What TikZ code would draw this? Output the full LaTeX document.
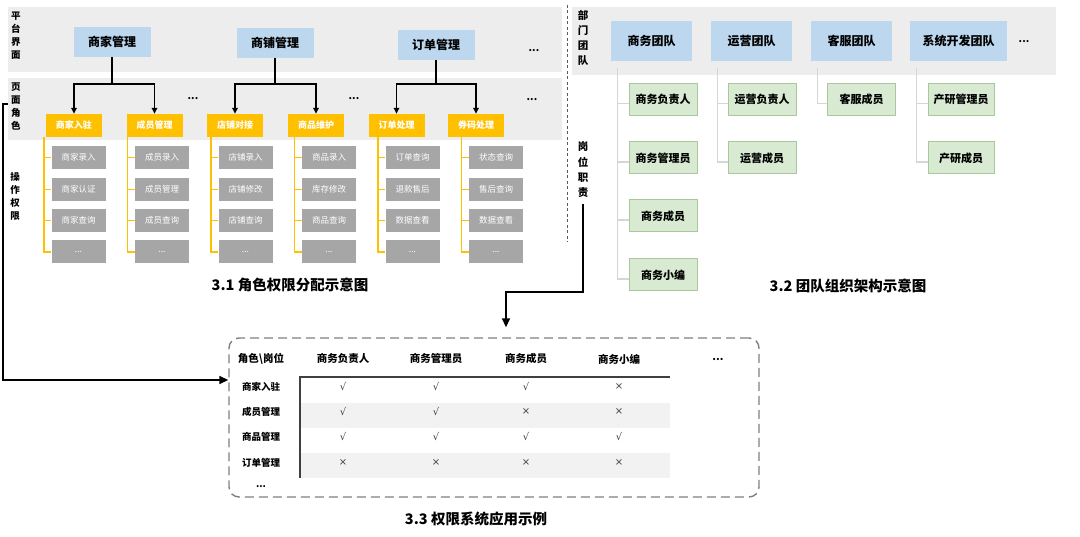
\documentclass[tikz,border=0pt]{standalone}
\usepackage{fontspec}
\setmainfont{Noto Sans CJK SC}
\newfontfamily\markfont{DejaVu Sans}
\usetikzlibrary{positioning,arrows.meta,calc}

\definecolor{bandgray}{HTML}{EDEDED}
\definecolor{mgrblue}{HTML}{BDD7EE}
\definecolor{roleorange}{HTML}{FFC000}
\definecolor{opgray}{HTML}{A6A6A6}
\definecolor{postgreen}{HTML}{D8EAD2}
\definecolor{postline}{HTML}{A9C99B}
\definecolor{treegray}{HTML}{D6D6D6}
\definecolor{rowgray}{HTML}{F2F2F2}
\definecolor{framegray}{HTML}{808080}

\tikzset{
  band/.style={fill=bandgray, inner sep=0},
  mgrbox/.style={fill=mgrblue, minimum width=77, minimum height=30, font=\bfseries\fontsize{12}{14}\selectfont},
  rolebox/.style={fill=roleorange, text=white, minimum width=56, minimum height=23, inner sep=1, font=\bfseries\fontsize{9}{11}\selectfont},
  opbox/.style={fill=opgray, text=white, minimum width=54, minimum height=23, inner sep=1, font=\fontsize{8.5}{10}\selectfont},
  teambox/.style={fill=mgrblue, minimum width=81, minimum height=40, font=\bfseries\fontsize{12}{14}\selectfont},
  postbox/.style={fill=postgreen, draw=postline, line width=1, minimum width=68, minimum height=32, inner sep=1, font=\bfseries\fontsize{11}{13}\selectfont},
  vlabel/.style={align=center, inner sep=0, font=\bfseries\fontsize{9.5}{13}\selectfont},
  vlabelR/.style={align=center, inner sep=0, font=\bfseries\fontsize{10.5}{15.3}\selectfont},
  dots/.style={font=\bfseries\fontsize{10}{12}\selectfont},
  title/.style={font=\bfseries\fontsize{14.5}{17}\selectfont},
  tree/.style={line width=1.6, -{Triangle[length=6pt,width=5.5pt]}},
  yline/.style={roleorange, line width=1.4},
  tline/.style={treegray, line width=1.3},
  conn/.style={line width=1.6, -{Triangle[length=9pt,width=8pt]}},
  thead/.style={font=\bfseries\fontsize{10.5}{12}\selectfont},
  rowlab/.style={font=\bfseries\fontsize{9.5}{11}\selectfont},
  cell/.style={text=black!75, font=\markfont\fontsize{10}{12}\selectfont}
}

\begin{document}
\begin{tikzpicture}[x=1pt, y=-1pt]
    \useasboundingbox (0,0) rectangle (1080,537);

    % 3.1 faixas
    \node[band, minimum width=554, minimum height=65] (uiband) at (285,39.5) {};
    \node[band, minimum width=554, minimum height=62] (roleband) at (285,109) {};
    \node[vlabel] (uilabel) at (16,36) {平\\台\\界\\面};
    \node[vlabel] (rolelabel) at (16,106.5) {页\\面\\角\\色};
    \node[vlabel] (oplabel) at (15,196.5) {操\\作\\权\\限};

    % Paginas
    \node[mgrbox] (mgrA) at (112,42) {商家管理};
    \node[mgrbox] (mgrB) at (275,43) {商铺管理};
    \node[mgrbox] (mgrC) at (436,45) {订单管理};
    \node[dots] (dotsA) at (534,51) {...};

    % Papeis
    \foreach \name/\x/\txt in {role1/74/商家入驻, role2/154.5/成员管理, role3/235/店铺对接,
                               role4/316/商品维护, role5/396.5/订单处理, role6/476/券码处理}
        \node[rolebox] (\name) at (\x,125.5) {\txt};
    \node[dots] (dotsB) at (193,99) {...};
    \node[dots] (dotsC) at (354,99) {...};
    \node[dots] (dotsD) at (532,100) {...};

    \foreach \m/\a/\b in {mgrA/role1/role2, mgrB/role3/role4, mgrC/role5/role6} {
        \draw[tree] (\m.south) -- (\m.south |- 0,84) -| (\a.north);
        \draw[tree] (\m.south |- 0,84) -| (\b.north);
    }

    % Operacoes
    \foreach \i/\x/\a/\b/\c in {1/78.5/商家录入/商家认证/商家查询, 2/162/成员录入/成员管理/成员查询,
                                3/245.5/店铺录入/店铺修改/店铺查询, 4/329/商品录入/库存修改/商品查询,
                                5/412.5/订单查询/退款售后/数据查看, 6/496/状态查询/售后查询/数据查看} {
        \node[opbox] (op\i1) at (\x,157.5) {\a};
        \node[opbox] (op\i2) at (\x,189.5) {\b};
        \node[opbox] (op\i3) at (\x,220.5) {\c};
        \node[opbox] (op\i4) at (\x,252) {...};
        \draw[yline] ([xshift=-7.5pt]op\i1.west |- role\i.south) |- (op\i4.west);
        \foreach \j in {1,2,3}
            \draw[yline] ([xshift=-7.5pt]op\i\j.west) -- (op\i\j.west);
    }
    \node[title] (title1) at (290,285) {3.1 角色权限分配示意图};

    % 3.2 equipes
    \draw[framegray!70!black, line width=1, dash pattern=on 3pt off 2.5pt] (567,5) -- (567,242);
    \node[band, minimum width=484, minimum height=68] (teamband) at (814,41) {};
    \node[vlabelR] (deptlabel) at (583,38) {部\\门\\团\\队};
    \node[vlabelR] (duty) at (583,170) {岗\\位\\职\\责};

    \node[teambox] (team1) at (651.5,41) {商务团队};
    \node[teambox] (team2) at (751.5,41) {运营团队};
    \node[teambox] (team3) at (851.5,41) {客服团队};
    \node[teambox, minimum width=97] (team4) at (958.5,41) {系统开发团队};
    \node[dots] (dotsE) at (1024,42) {...};

    \node[postbox] (post11) at (663,99.5) {商务负责人};
    \node[postbox] (post12) at (663,158) {商务管理员};
    \node[postbox] (post13) at (663,216) {商务成员};
    \node[postbox] (post14) at (663,275) {商务小编};
    \node[postbox] (post21) at (762,99.5) {运营负责人};
    \node[postbox] (post22) at (762,158) {运营成员};
    \node[postbox] (post31) at (861.5,99.5) {客服成员};
    \node[postbox, minimum width=66] (post41) at (961,99.5) {产研管理员};
    \node[postbox, minimum width=66] (post42) at (961,158) {产研成员};

    \foreach \t/\p in {1/11, 1/12, 1/13, 1/14, 2/21, 2/22, 3/31, 4/41, 4/42}
        \draw[tline] ([shift={(7,7)}]team\t.south west) |- ([yshift=-4pt]post\p.west);
    \node[title] (title2) at (848,286) {3.2 团队组织架构示意图};

    % 3.3 tabela
    \node[draw=framegray, line width=1.4, dash pattern=on 9pt off 5pt, rounded corners=10,
          minimum width=530, minimum height=159] (tblframe) at (494,417.5) {};
    \fill[rowgray] (300,403) rectangle (670,428);
    \fill[rowgray] (300,453) rectangle (670,478);
    \draw[black!75, line width=1.4] (670,377) -- (300,377) -- (300,478);

    \node[thead] (h0) at (261,359) {角色\textbackslash 岗位};
    \foreach \k/\x/\txt in {1/343/商务负责人, 2/436/商务管理员, 3/526/商务成员, 4/619/商务小编}
        \node[thead] (h\k) at (\x,359) {\txt};
    \node[thead] (h5) at (718,359) {...};

    \foreach \r/\y/\lab/\a/\b/\c/\d in {1/387/商家入驻/√/√/√/×, 2/412/成员管理/√/√/×/×,
                                        3/437/商品管理/√/√/√/√, 4/463/订单管理/×/×/×/×} {
        \node[rowlab] (row\r) at (261,\y) {\lab};
        \node[cell] (c\r1) at (343,\y) {\a};
        \node[cell] (c\r2) at (436,\y) {\b};
        \node[cell] (c\r3) at (526,\y) {\c};
        \node[cell] (c\r4) at (619,\y) {\d};
    }
    \node[rowlab] (row5) at (261,487) {...};
    \node[title] (title3) at (476,519) {3.3 权限系统应用示例};

    % Ligacoes
    \draw[conn] ([yshift=5pt]roleband.west) -- ++(-5,0) |- ([yshift=37.5pt]tblframe.west);
    \coordinate (dutyturn) at (506,292);
    \draw[conn, shorten >=10pt] ([yshift=-6pt]duty.south) |- (dutyturn) -- (dutyturn |- tblframe.north);
\end{tikzpicture}
\end{document}
